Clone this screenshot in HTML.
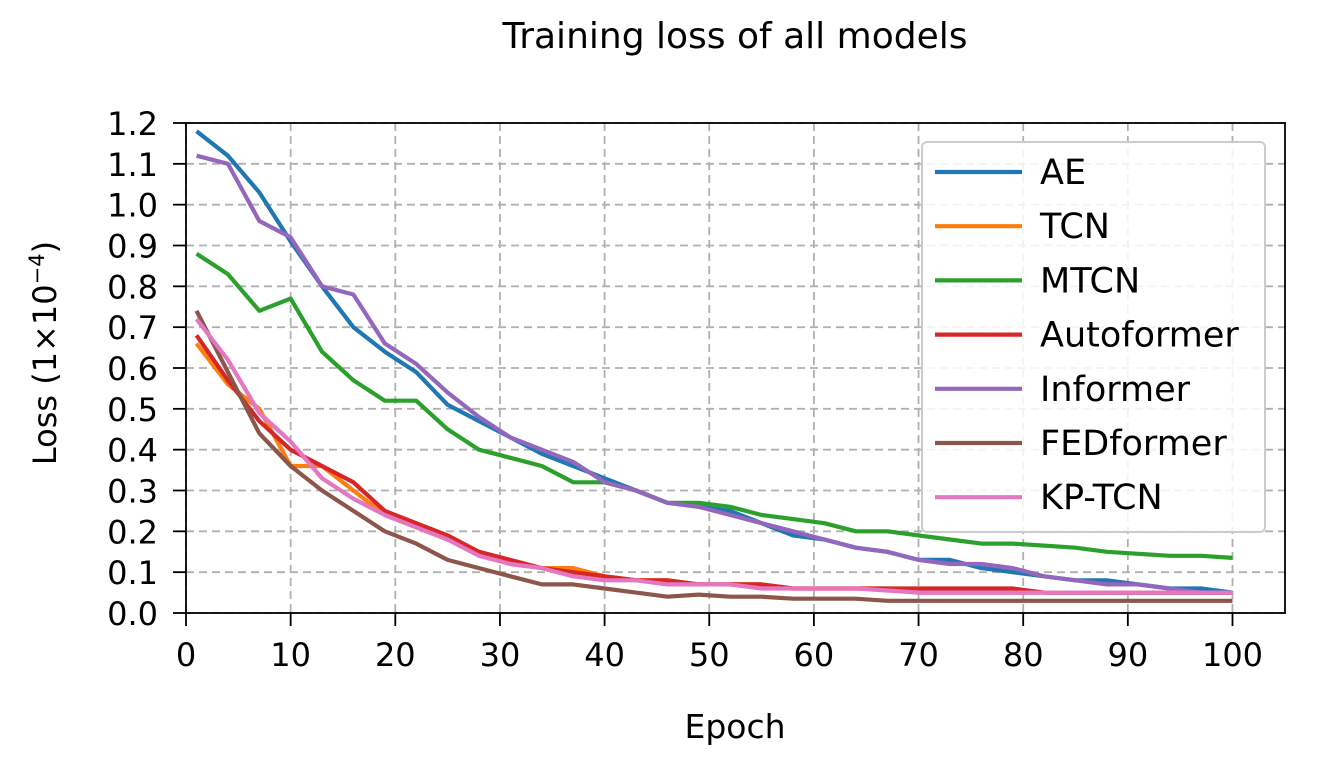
<!DOCTYPE html>
<html><head><meta charset="utf-8"><style>
body{margin:0;background:#fff;}
svg text{font-family:"DejaVu Sans","Liberation Sans",sans-serif;fill:#000;}
</style></head><body>
<svg id="chart" width="1317" height="764" xmlns="http://www.w3.org/2000/svg">
<text x="735" y="48" font-size="36" text-anchor="middle">Training loss of all models</text>
<g id="grid"></g>
<g id="series"></g>
<rect x="186" y="123" width="1099" height="490" fill="none" stroke="#000" stroke-width="1.8"/>
<g id="ticks"></g>
<text x="735" y="738" font-size="33" text-anchor="middle">Epoch</text>
<text transform="translate(56,353) rotate(-90)" font-size="32" text-anchor="middle">Loss (1×10<tspan dy="-12" font-size="21">−4</tspan><tspan dy="12">)</tspan></text>
<g id="legend"></g>
</svg>
<script>
const epochs=[1,4,7,10,13,16,19,22,25,28,31,34,37,40,43,46,49,52,55,58,61,64,67,70,73,76,79,82,85,88,91,94,97,100];
const seriesNames=["AE","TCN","MTCN","Autoformer","Informer","FEDformer","KP-TCN"];
const colors=["#1f77b4","#ff7f0e","#2ca02c","#d62728","#9467bd","#8c564b","#e377c2"];
const ae=[1.18,1.12,1.03,0.91,0.80,0.70,0.64,0.59,0.51,0.47,0.43,0.39,0.36,0.33,0.30,0.27,0.26,0.25,0.22,0.19,0.18,0.16,0.15,0.13,0.13,0.11,0.10,0.09,0.08,0.08,0.07,0.06,0.06,0.05];
const tcn=[0.66,0.56,0.50,0.36,0.36,0.30,0.24,0.21,0.18,0.15,0.12,0.11,0.11,0.09,0.08,0.08,0.07,0.07,0.07,0.06,0.06,0.06,0.06,0.05,0.05,0.05,0.05,0.05,0.05,0.05,0.05,0.05,0.05,0.05];
const mtcn=[0.88,0.83,0.74,0.77,0.64,0.57,0.52,0.52,0.45,0.40,0.38,0.36,0.32,0.32,0.30,0.27,0.27,0.26,0.24,0.23,0.22,0.20,0.20,0.19,0.18,0.17,0.17,0.165,0.16,0.15,0.145,0.14,0.14,0.135];
const autoformer=[0.68,0.57,0.47,0.40,0.36,0.32,0.25,0.22,0.19,0.15,0.13,0.11,0.10,0.09,0.08,0.08,0.07,0.07,0.07,0.06,0.06,0.06,0.06,0.06,0.06,0.06,0.06,0.05,0.05,0.05,0.05,0.05,0.05,0.05];
const informer=[1.12,1.10,0.96,0.92,0.80,0.78,0.66,0.61,0.54,0.48,0.43,0.40,0.37,0.32,0.30,0.27,0.26,0.24,0.22,0.20,0.18,0.16,0.15,0.13,0.12,0.12,0.11,0.09,0.08,0.07,0.07,0.06,0.05,0.05];
const fedformer=[0.74,0.59,0.44,0.36,0.30,0.25,0.20,0.17,0.13,0.11,0.09,0.07,0.07,0.06,0.05,0.04,0.045,0.04,0.04,0.035,0.035,0.035,0.03,0.03,0.03,0.03,0.03,0.03,0.03,0.03,0.03,0.03,0.03,0.03];
const kptcn=[0.72,0.62,0.49,0.42,0.33,0.28,0.24,0.21,0.18,0.14,0.12,0.11,0.09,0.08,0.08,0.07,0.07,0.07,0.06,0.06,0.06,0.06,0.055,0.05,0.05,0.05,0.05,0.05,0.05,0.05,0.05,0.05,0.05,0.05];
const xTicks=[0,10,20,30,40,50,60,70,80,90,100];
const yTicks=[0,0.1,0.2,0.3,0.4,0.5,0.6,0.7,0.8,0.9,1.0,1.1,1.2];

const NS="http://www.w3.org/2000/svg";
const X=v=>186+v*10.465;
const Y=v=>613-v*(490/1.2);
function mk(tag,attrs,parent){const e=document.createElementNS(NS,tag);for(const k in attrs)e.setAttribute(k,attrs[k]);parent.appendChild(e);return e;}
const grid=document.getElementById('grid'),ticks=document.getElementById('ticks');
xTicks.forEach(t=>{
  const l=mk('line',{x1:X(t),x2:X(t),y1:123,y2:613,stroke:'#b0b0b0','stroke-width':1.8,'stroke-dasharray':'8,5'},grid);
  
  
  const tk=mk('line',{x1:X(t),x2:X(t),y1:613,y2:626,stroke:'#000','stroke-width':1.8},ticks);
  
  
  const tx=mk('text',{x:X(t),y:666,'font-size':32,'text-anchor':'middle'},ticks);
  tx.textContent=t;
  
  
});
yTicks.forEach(t=>{
  const l=mk('line',{x1:186,x2:1285,y1:Y(t),y2:Y(t),stroke:'#b0b0b0','stroke-width':1.8,'stroke-dasharray':'8,5'},grid);
  
  
  const tk=mk('line',{x1:173,x2:186,y1:Y(t),y2:Y(t),stroke:'#000','stroke-width':1.8},ticks);
  
  
  const tx=mk('text',{x:158,y:Y(t)+12,'font-size':32,'text-anchor':'end'},ticks);
  tx.textContent=t.toFixed(1);
  
  
});
const data=[ae,tcn,mtcn,autoformer,informer,fedformer,kptcn];
const sg=document.getElementById('series');
data.forEach((arr,i)=>{
  const d=arr.map((v,j)=>(j?'L':'M')+X(epochs[j]).toFixed(1)+','+Y(v).toFixed(1)).join(' ');
  const p=mk('path',{d:d,fill:'none',stroke:colors[i],'stroke-width':4.2,'stroke-linejoin':'round'},sg);
  
  
});
const lg=document.getElementById('legend');
const box=mk('rect',{x:922,y:142,width:343,height:390,rx:5,fill:'#fff','fill-opacity':0.85,stroke:'#ccc','stroke-width':2},lg);


seriesNames.forEach((n,i)=>{
  const y=172+i*54.2;
  const g=mk('g',{},lg);
  
  
  mk('line',{x1:935,x2:1022,y1:y,y2:y,stroke:colors[i],'stroke-width':4.2},g);
  const t=mk('text',{x:1040,y:y+12,'font-size':35},g);
  t.textContent=n;
});
</script>
</body></html>
